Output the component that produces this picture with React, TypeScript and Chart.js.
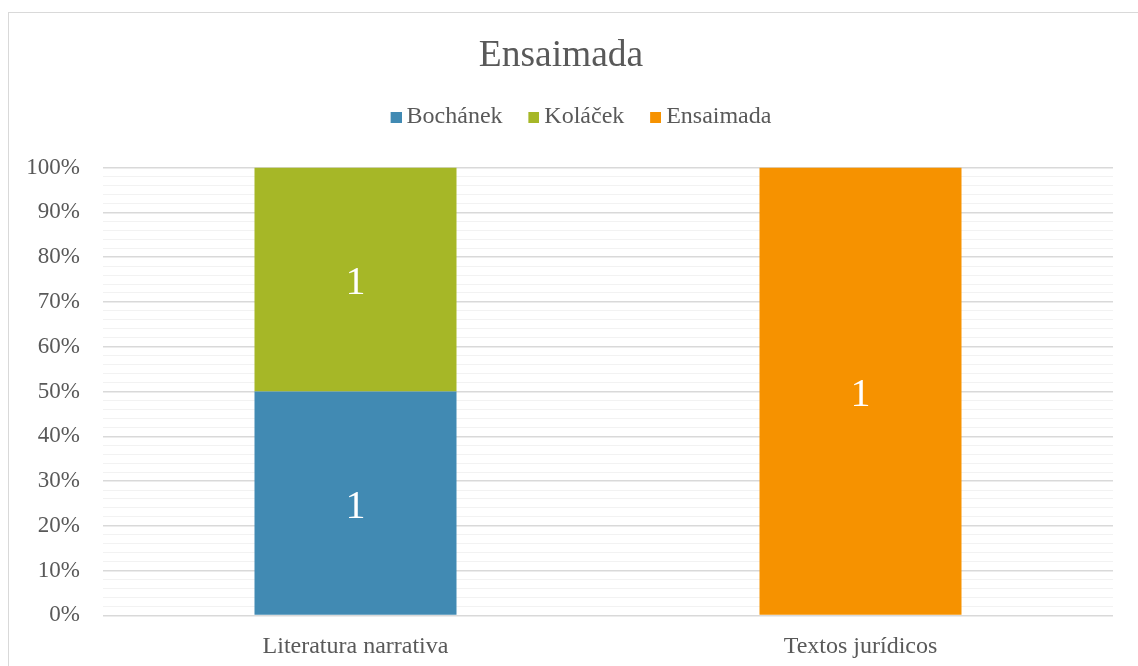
import React, { useEffect, useRef } from "react";
import { Chart, registerables } from "chart.js";

Chart.register(...registerables);

const chartTitle = "Ensaimada";
const categories = ["Literatura narrativa", "Textos jurídicos"];
const seriesNames = ["Bochánek", "Koláček", "Ensaimada"];
const bochanek = [1, 0];
const kolacek = [1, 0];
const ensaimada = [0, 1];
const seriesColors = ["#418AB3", "#A6B727", "#F69200"];
const yTickValues = [0, 10, 20, 30, 40, 50, 60, 70, 80, 90, 100];

const FONT = "'Liberation Serif', 'Times New Roman', serif";
const TEXT = "#595959";

function swatch(color: string) {
  const c = document.createElement("canvas");
  c.width = 14;
  c.height = 11;
  const g = c.getContext("2d")!;
  g.fillStyle = color;
  g.fillRect(3, 0, 11, 11);
  return c;
}

const dataLabelPlugin = {
  id: "dataLabels",
  afterDatasetsDraw(chart: any) {
    const ctx = chart.ctx;
    ctx.save();
    ctx.fillStyle = "#ffffff";
    ctx.font = `40px ${FONT}`;
    ctx.textAlign = "center";
    ctx.textBaseline = "middle";
    chart.data.datasets.forEach((ds: any, di: number) => {
      const meta = chart.getDatasetMeta(di);
      meta.data.forEach((el: any, i: number) => {
        const raw = ds.rawValues[i];
        if (!raw) return;
        const cy = (el.y + el.base) / 2;
        ctx.fillText(String(raw), el.x, cy + 4);
      });
    });
    ctx.restore();
  },
};

const legendTweakPlugin = {
  id: "legendTweak",
  beforeInit(chart: any) {
    const legend = chart.legend;
    if (!legend) return;
    const origFit = legend.fit;
    legend.fit = function () {
      origFit.call(this);
      this.height += 24.8;
    };
    const origDraw = legend.draw;
    legend.draw = function (...args: any[]) {
      const ctx = this.ctx;
      ctx.save();
      ctx.translate(22, -3.7);
      origDraw.apply(this, args);
      ctx.restore();
    };
  },
};

export default function App() {
  const ref = useRef<HTMLCanvasElement | null>(null);

  useEffect(() => {
    if (!ref.current) return;
    const raw = [bochanek, kolacek, ensaimada];
    const totals = categories.map((_, i) => raw.reduce((s, arr) => s + arr[i], 0));
    const chart = new Chart(ref.current, {
      type: "bar",
      data: {
        labels: categories,
        datasets: raw.map((arr, k) => ({
          label: seriesNames[k],
          data: arr.map((v, i) => (totals[i] ? (v / totals[i]) * 100 : 0)),
          rawValues: arr,
          backgroundColor: seriesColors[k],
          pointStyle: swatch(seriesColors[k]),
          borderWidth: 0,
          barPercentage: 0.4,
          categoryPercentage: 1,
        })) as any,
      },
      plugins: [dataLabelPlugin, legendTweakPlugin],
      options: {
        responsive: false,
        animation: false,
        devicePixelRatio: 1,
        layout: { padding: { top: 0, left: 0, right: 36, bottom: 10.8 } },
        plugins: {
          title: {
            display: true,
            text: chartTitle,
            color: TEXT,
            font: { family: FONT, size: 37.5, weight: "normal" },
            padding: { top: 21, bottom: 0 },
          },
          legend: {
            display: true,
            position: "top",
            labels: {
              color: TEXT,
              font: { family: FONT, size: 24 },
              usePointStyle: true,
              pointStyleWidth: 0.01,
              boxHeight: 11,
              padding: 29.8,
            },
          },
          tooltip: { enabled: false },
        },
        scales: {
          x: {
            stacked: true,
            grid: { display: false },
            border: { display: false },
            ticks: {
              color: TEXT,
              font: { family: FONT, size: 24 },
              padding: 9,
            },
          },
          y: {
            stacked: true,
            min: 0,
            max: 100,
            afterFit(scale: any) {
              scale.width = 94;
            },
            afterBuildTicks(scale: any) {
              const t: any[] = [];
              for (let v = 0; v <= 100; v += 2) t.push({ value: v });
              scale.ticks = t;
            },
            border: { display: false },
            grid: {
              drawTicks: false,
              color: (c: any) =>
                yTickValues.includes(c.tick?.value) ? "#d9d9d9" : "#f2f2f2",
              lineWidth: (c: any) => (yTickValues.includes(c.tick?.value) ? 1.5 : 1),
            },
            ticks: {
              autoSkip: false,
              color: TEXT,
              font: { family: FONT, size: 23 },
              padding: 23,
              callback: (v: any) => (yTickValues.includes(Number(v)) ? `${v}%` : ""),
            },
          },
        },
      },
    });
    return () => chart.destroy();
  }, []);

  return (
    <div
      style={{
        position: "fixed",
        left: 8,
        top: 12,
        width: 1142,
        height: 670,
        border: "1px solid #d9d9d9",
        boxSizing: "border-box",
        background: "#fff",
      }}
    >
      <canvas ref={ref} width={1140} height={668} style={{ display: "block", width: 1140, height: 668 }} />
    </div>
  );
}
